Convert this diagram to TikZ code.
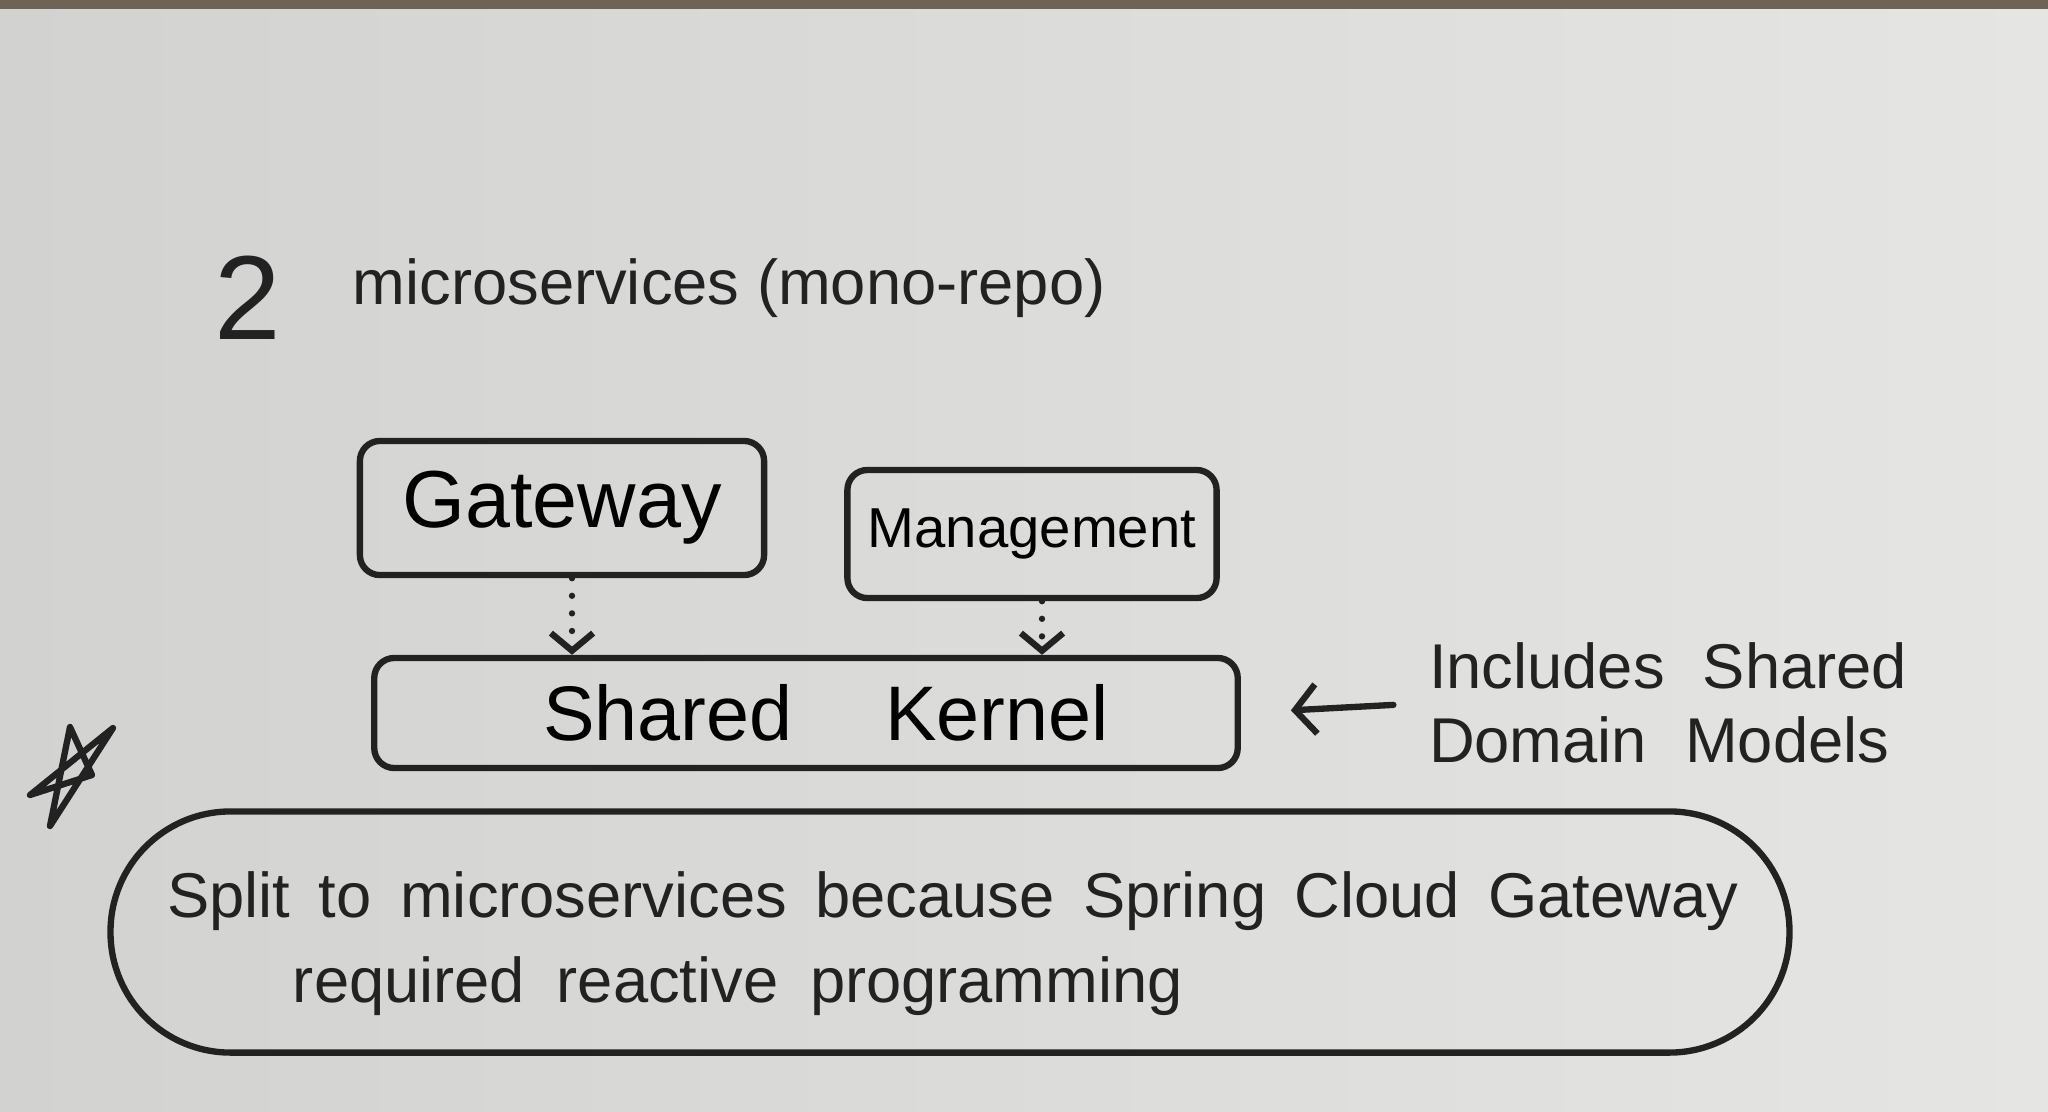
\documentclass[tikz,border=0pt]{standalone}
\usepackage{fontspec}
\setmainfont{Liberation Sans}
\usetikzlibrary{arrows.meta}
\definecolor{ink}{RGB}{34,34,34}
\definecolor{boardL}{RGB}{210,211,209}
\definecolor{boardR}{RGB}{229,230,228}
\definecolor{frame}{RGB}{110,100,85}
\begin{document}
\begin{tikzpicture}[x=0.01cm,y=-0.01cm,
  box/.style={draw=ink, line width=1.8pt, rounded corners=0.2cm, inner sep=0pt},
  lbl/.style={text=ink, inner sep=0pt},
  dep/.style={draw=ink, line width=1.8pt, line cap=round, dash pattern=on 0pt off 5pt,
    -{Straight Barb[length=5pt,width=12pt,line width=1.8pt]}},
  ptr/.style={draw=ink, line width=1.8pt, line cap=round,
    -{Straight Barb[length=6pt,width=14pt,line width=1.8pt]}},
]
\shade[left color=boardL,right color=boardR] (0,0) rectangle (2048,1111);
\fill[frame] (0,0) rectangle (2048,9);
\useasboundingbox (0,0) rectangle (2048,1111);

% title
\node[lbl, font=\fontsize{34}{38}\selectfont] (two) at (248,298) {2};
\node[lbl, font=\fontsize{18}{22}\selectfont, anchor=west] (title) at (352,288) {microservices (mono-repo)};

% boxes
\node[box, minimum width=4.04cm, minimum height=1.34cm, font=\fontsize{23}{27}\selectfont] (gw) at (562,508) {Gateway};
\node[box, minimum width=3.69cm, minimum height=1.28cm, font=\fontsize{16}{20}\selectfont] (mg) at (1032,534) {Management};
\node[box, minimum width=8.63cm, minimum height=1.10cm, font=\fontsize{22}{26}\selectfont] (sk) at (806,713) {\hspace{0.4cm}Shared\hspace{1.2em}Kernel};

% dependencies
\coordinate (gwa) at ([xshift=0.1cm]gw.south);
\coordinate (mga) at ([xshift=0.1cm]mg.south);
\draw[dep] (gwa) -- (gwa |- sk.north);
\draw[dep] (mga) -- (mga |- sk.north);

% side note
\node[lbl, align=left, font=\fontsize{18}{21}\selectfont] (inc) at (1668,703) {Includes\hspace{0.6em}Shared\\Domain\hspace{0.6em}Models};
\draw[ptr, shorten <=0.35cm, shorten >=0.5cm] (inc.west) -- (sk.east);

% star
\draw[ink, line width=1.8pt, line join=round]
  (70,727) -- (92,775) -- (30,795) -- (113,728) -- (50,826) -- cycle;

% note
\node[draw=ink, line width=1.8pt, rounded corners=1.2cm, minimum width=16.78cm, minimum height=2.41cm] (note) at (950,932) {};
\node[lbl, font=\fontsize{18}{22}\selectfont] (n1) at (953,901) {Split\hspace{0.45em}to\hspace{0.45em}microservices\hspace{0.45em}because\hspace{0.45em}Spring\hspace{0.45em}Cloud\hspace{0.45em}Gateway};
\node[lbl, font=\fontsize{18}{22}\selectfont] (n2) at (738,986) {required\hspace{0.5em}reactive\hspace{0.5em}programming};
\end{tikzpicture}
\end{document}
